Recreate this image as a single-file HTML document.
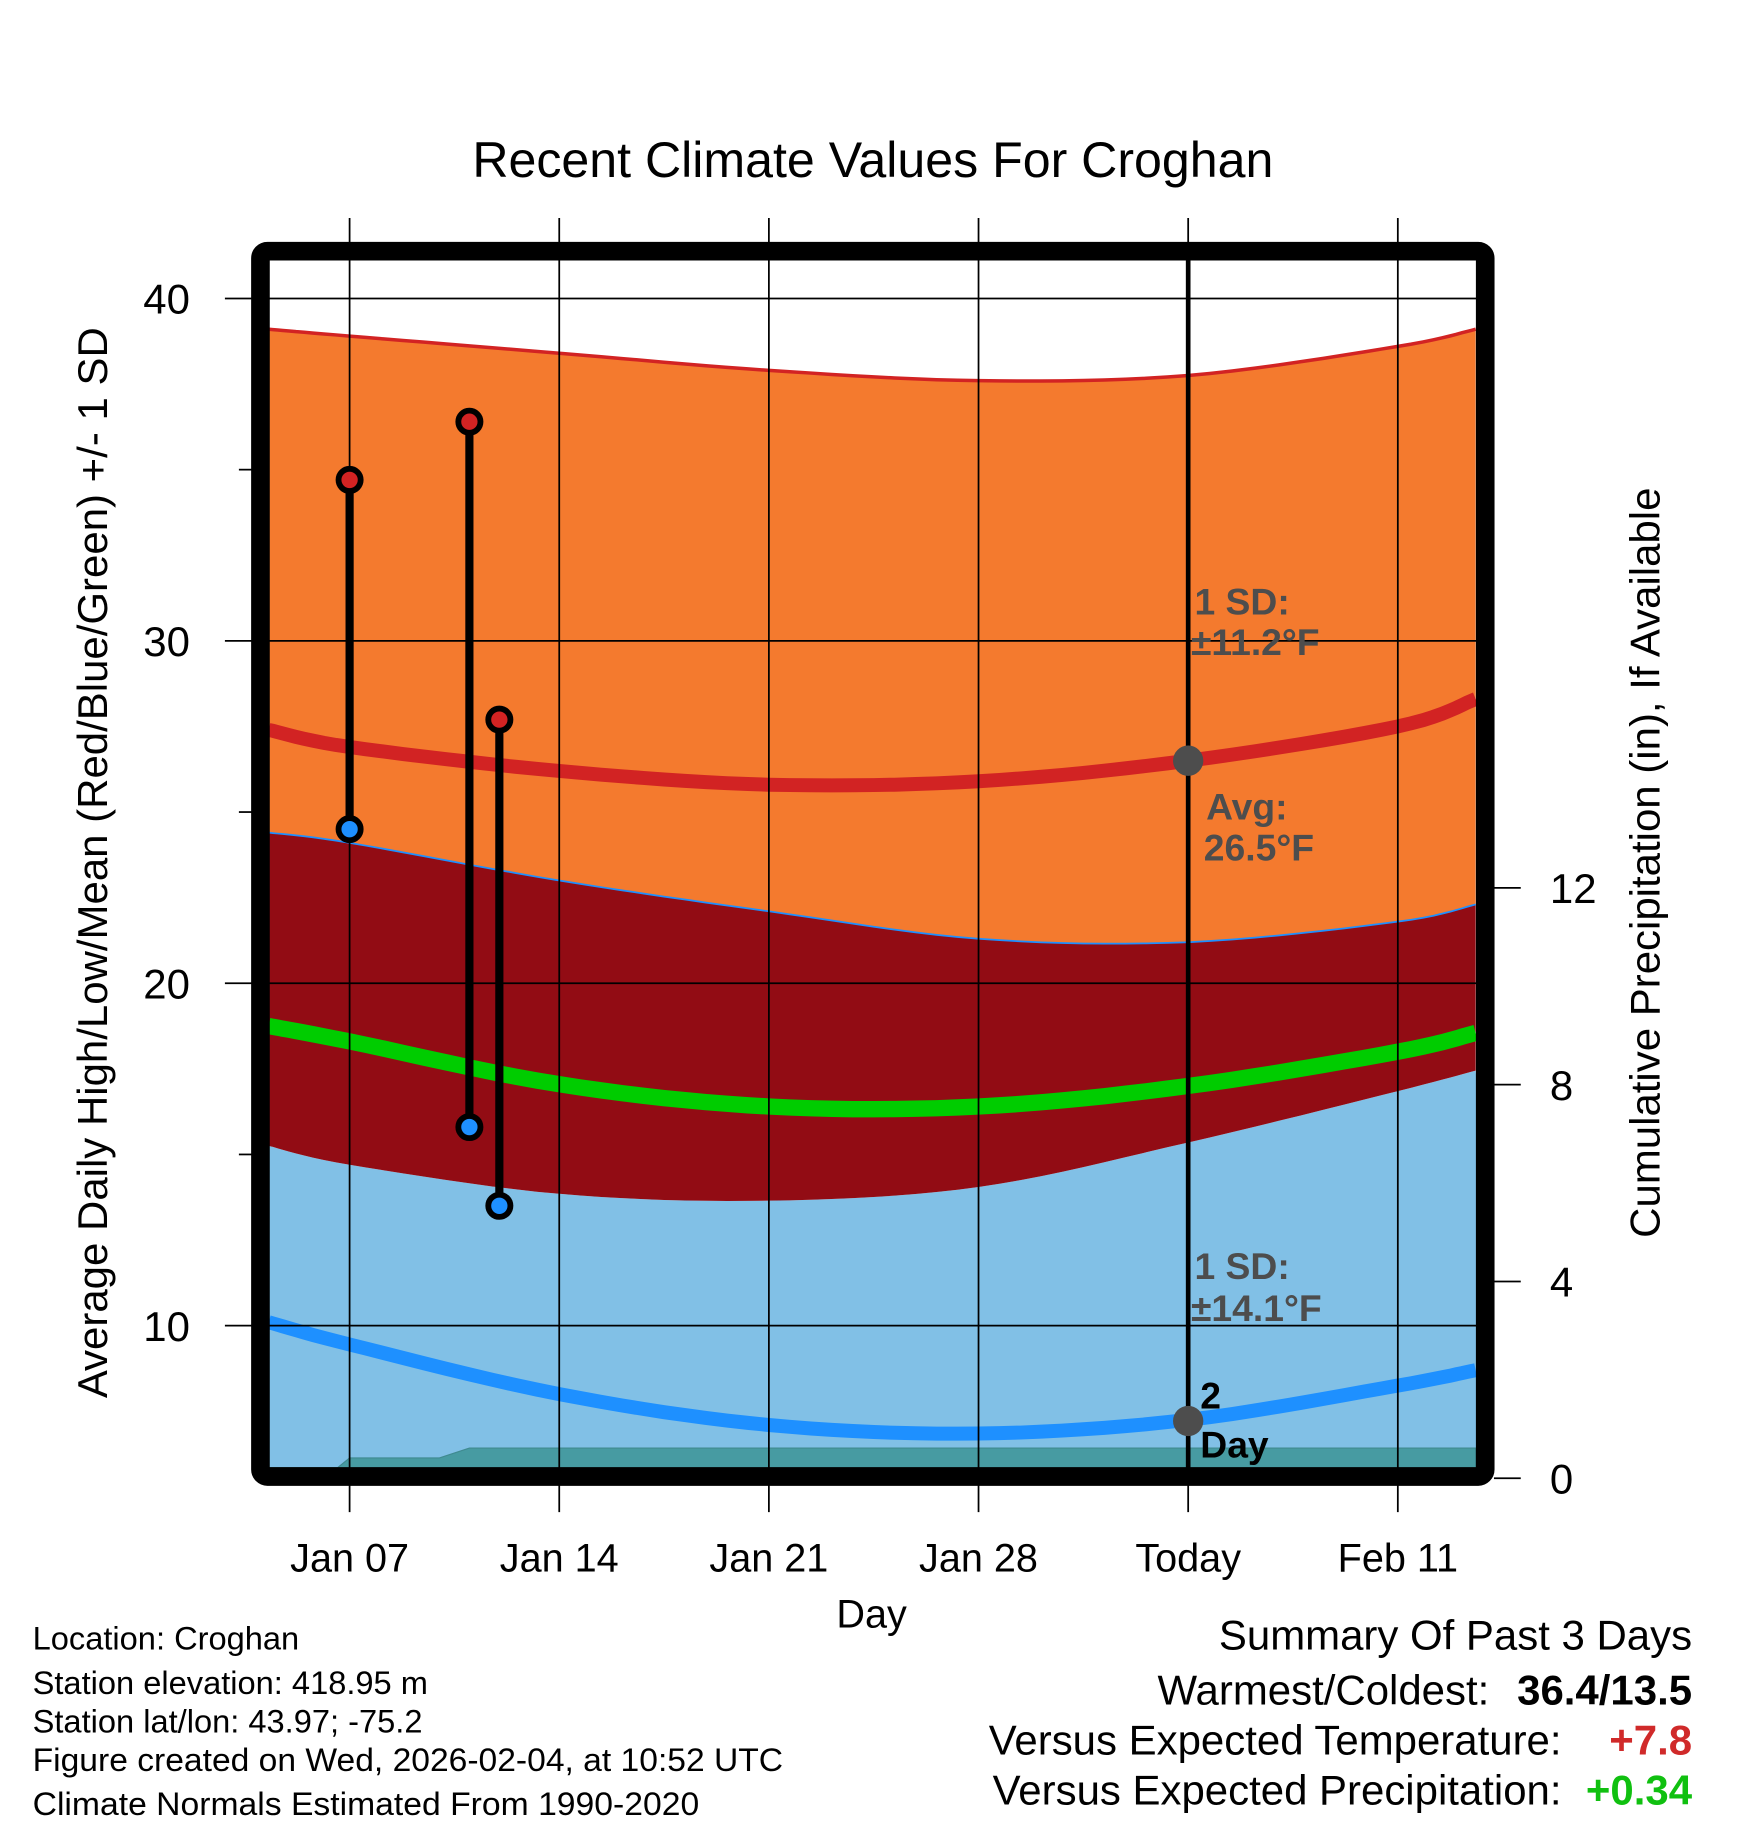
<!DOCTYPE html>
<html><head><meta charset="utf-8"><style>
html,body{margin:0;padding:0;background:#fff}
svg{display:block}
text{font-family:"Liberation Sans",Arial,sans-serif}
</style></head><body>
<svg id="chart" width="1748" height="1828" viewBox="0 0 1500 1568" preserveAspectRatio="none" xmlns="http://www.w3.org/2000/svg">
<defs><clipPath id="plotclip"><rect x="231" y="223" width="1036" height="1036"/></clipPath></defs>
<text x="749" y="152" font-size="43" text-anchor="middle">Recent Climate Values For Croghan</text>
<g id="plot" clip-path="url(#plotclip)"></g>
<g id="grid"></g>
<g id="overlay"></g>
<rect x="223.5" y="215.5" width="1051" height="1051" rx="6" fill="none" stroke="#000" stroke-width="16"/>
<g id="axes"></g>
<text transform="translate(92,740) rotate(-90)" font-size="36" text-anchor="middle">Average Daily High/Low/Mean (Red/Blue/Green) +/- 1 SD</text>
<text transform="translate(1424,740) rotate(-90)" font-size="36" text-anchor="middle">Cumulative Precipitation (in), If Available</text>
<text x="748" y="1396" font-size="34" text-anchor="middle">Day</text>
<g font-size="28">
<text x="28" y="1415">Location: Croghan</text>
<text x="28" y="1453">Station elevation: 418.95 m</text>
<text x="28" y="1486">Station lat/lon: 43.97; -75.2</text>
<text x="28" y="1519" textLength="644" lengthAdjust="spacingAndGlyphs">Figure created on Wed, 2026-02-04, at 10:52 UTC</text>
<text x="28" y="1557" textLength="572" lengthAdjust="spacingAndGlyphs">Climate Normals Estimated From 1990-2020</text>
</g>
<g font-size="36">
<text x="1452" y="1415" text-anchor="end">Summary Of Past 3 Days</text>
<text x="1278" y="1462" text-anchor="end">Warmest/Coldest:</text>
<text x="1452" y="1462" text-anchor="end" font-weight="bold">36.4/13.5</text>
<text x="1340" y="1505" text-anchor="end">Versus Expected Temperature:</text>
<text x="1452" y="1505" text-anchor="end" font-weight="bold" fill="#d02a2a">+7.8</text>
<text x="1340" y="1548" text-anchor="end">Versus Expected Precipitation:</text>
<text x="1452" y="1548" text-anchor="end" font-weight="bold" fill="#10c010">+0.34</text>
</g>
</svg>
<script>
// Day offsets relative to Jan 07 (Today = Feb 04 = 28)
const climDays  = [-2.7, 0, 7, 14, 21, 28, 35, 37.6];
const highPlusSD= [39.1, 38.9, 38.4, 37.9, 37.6, 37.75, 38.6, 39.1];
const meanHigh  = [27.4, 26.9, 26.2, 25.8, 25.9, 26.5, 27.5, 28.3];
const highMinusSD=[24.4, 24.1, 23.0, 22.1, 21.3, 21.2, 21.8, 22.3];
const meanTemp  = [18.75, 18.3, 17.05, 16.4, 16.4, 17.0, 18.0, 18.55];
const lowPlusSD = [15.25, 14.7, 13.85, 13.65, 14.05, 15.35, 16.85, 17.45];
const meanLow   = [10.1, 9.45, 8.0, 7.1, 6.85, 7.25, 8.25, 8.7];
const precipDays= [-2.7, -0.4, 0, 3, 4, 37.6];
const precipCum = [0.0, 0.0, 0.2, 0.2, 0.4, 0.4];
const obsDays   = [0, 4, 5];
const obsHigh   = [34.7, 36.4, 27.7];
const obsLow    = [24.5, 15.8, 13.5];
const xTickDays = [0, 7, 14, 21, 28, 35];
const xTickLabels = ["Jan 07","Jan 14","Jan 21","Jan 28","Today","Feb 11"];
const yTicks = [10, 20, 30, 40];
const yMinor = [15, 25, 35];
const y2Ticks = [0, 4, 8, 12];
const todayDay = 28;

const NS="http://www.w3.org/2000/svg";
const X = d => 300 + d*25.7;
const Y = v => 256 + (40 - v)*29.37;
const YP = p => 1259 - p*42.2;
function mk(tag, attrs, parent){const e=document.createElementNS(NS,tag);for(const k in attrs)e.setAttribute(k,attrs[k]);parent.appendChild(e);return e;}
const plot=document.getElementById('plot'), grid=document.getElementById('grid'), ov=document.getElementById('overlay'), ax=document.getElementById('axes');
// smooth (Catmull-Rom) sampling through data points
function smooth(ds,vs){
  const P=ds.map((d,i)=>[X(d),Y(vs[i])]);const out=[];
  for(let i=0;i<P.length-1;i++){
    const p0=P[Math.max(0,i-1)],p1=P[i],p2=P[i+1],p3=P[Math.min(P.length-1,i+2)];
    for(let t=0;t<1;t+=0.1){
      const t2=t*t,t3=t2*t;
      const f=(a,b,c,d)=>0.5*((2*b)+(-a+c)*t+(2*a-5*b+4*c-d)*t2+(-a+3*b-3*c+d)*t3);
      out.push([f(p0[0],p1[0],p2[0],p3[0]),f(p0[1],p1[1],p2[1],p3[1])]);
    }
  }
  out.push(P[P.length-1]);return out;
}
const str=a=>a.map(p=>p[0].toFixed(1)+','+p[1].toFixed(1)).join(' ');
function band(top,bot,fill,name){
  const t=smooth(climDays,top);
  const b=bot?smooth(climDays,bot).reverse():[[1300,1300],[200,1300]];
  const e=mk('polygon',{points:str(t.concat(b)),fill:fill},plot);
  
  
}
function line(vals,color,w,name){
  const e=mk('polyline',{points:str(smooth(climDays,vals)),fill:'none',stroke:color,'stroke-width':w},plot);
  
  
}
band(lowPlusSD, null, '#81c0e6', 'low-sd-band');
band(highPlusSD, highMinusSD, '#f47a2e', 'high-sd-band');
band(highMinusSD, lowPlusSD, '#920c14', 'overlap-band');
line(highPlusSD,'#d22323',3,'high-plus-sd-line');
line(highMinusSD,'#1e90ff',1.5,'high-minus-sd-line');
line(meanHigh,'#d22323',12,'mean-high-line');
line(meanTemp,'#00cc00',14,'mean-temp-line');
line(meanLow,'#1e90ff',12,'mean-low-line');
// precipitation area
{const p=precipDays.map((d,i)=>X(d).toFixed(1)+','+YP(precipCum[i]).toFixed(1));p.push(X(precipDays[precipDays.length-1])+',1262',X(precipDays[0])+',1262');
const e=mk('polygon',{points:p.join(' '),fill:'#479ba2',stroke:'#3f8a90','stroke-width':1},plot);

}
// grid
yTicks.forEach(v=>{const e=mk('line',{x1:231,x2:1267,y1:Y(v),y2:Y(v),stroke:'#000','stroke-width':1.5},grid);

});
xTickDays.forEach(d=>{const e=mk('line',{x1:X(d),x2:X(d),y1:187,y2:1297,stroke:'#000','stroke-width':1.5},grid);

});
// today line
{const e=mk('line',{x1:X(todayDay),x2:X(todayDay),y1:223,y2:1259,stroke:'#000','stroke-width':4},ov);

}
// today markers
const ti=climDays.indexOf(todayDay);
[meanHigh[ti], meanLow[ti]].forEach((v,i)=>{const yy=i==0?Y(v):Y(v)+1;
const e=mk('circle',{cx:X(todayDay),cy:yy,r:13,fill:'#4d4d4d'},ov);

});
// annotations
const ann=[["1 SD:",1025,527,'#4d4d4d'],["\u00b111.2\u00b0F",1022,562,'#4d4d4d'],["Avg:",1035,703,'#4d4d4d'],["26.5\u00b0F",1033,738,'#4d4d4d'],["1 SD:",1025,1097,'#4d4d4d'],["\u00b114.1\u00b0F",1022,1133,'#4d4d4d'],["2",1030,1208,'#000'],["Day",1030,1250,'#000']];
ann.forEach(a=>{const e=mk('text',{x:a[1],y:a[2],fill:a[3],'font-size':32,'font-weight':'bold'},ov);e.textContent=a[0];

});
// observations
obsDays.forEach((d,i)=>{
  const l=mk('line',{x1:X(d),x2:X(d),y1:Y(obsHigh[i]),y2:Y(obsLow[i]),stroke:'#000','stroke-width':7},ov);
  
  
  const h=mk('circle',{cx:X(d),cy:Y(obsHigh[i]),r:9.5,fill:'#d22323',stroke:'#000','stroke-width':5},ov);
  
  
  const lo=mk('circle',{cx:X(d),cy:Y(obsLow[i]),r:9.5,fill:'#1e90ff',stroke:'#000','stroke-width':5},ov);
  
  
});
// axes ticks
yTicks.forEach(v=>{const t=mk('line',{x1:193,x2:216,y1:Y(v),y2:Y(v),stroke:'#000','stroke-width':1.5},ax);


const e=mk('text',{x:143,y:Y(v)+13,'font-size':36,'text-anchor':'middle'},ax);e.textContent=v;

});
yMinor.forEach(v=>{const t=mk('line',{x1:205,x2:216,y1:Y(v),y2:Y(v),stroke:'#000','stroke-width':1.5},ax);

});
y2Ticks.forEach(p=>{const yy=1268-p*42.2;const t=mk('line',{x1:1282,x2:1305,y1:yy,y2:yy,stroke:'#000','stroke-width':1.5},ax);


const e=mk('text',{x:1330,y:yy+13,'font-size':36},ax);e.textContent=p;

});
xTickDays.forEach((d,i)=>{const e=mk('text',{x:X(d),y:1348,'font-size':34,'text-anchor':'middle'},ax);e.textContent=xTickLabels[i];

});
</script>
</body></html>
